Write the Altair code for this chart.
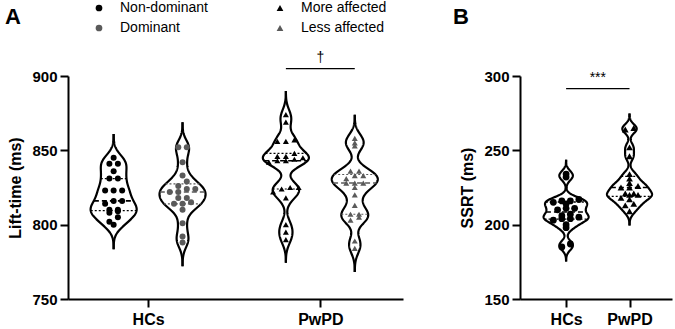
import altair as alt
import pandas as pd

# ---------------- data ----------------
# Panel A: Lift-time (ms)
hc_nondominant = [845, 841, 841, 836, 831, 831, 823, 823, 823, 816, 816, 814, 810, 810, 809, 808, 805, 802, 800]
hc_dominant = [852, 852, 842, 833, 829, 826, 824, 824, 822, 822, 818, 818, 815, 814, 814, 810, 801, 792, 788]
pd_more = [874, 869, 857, 856, 856, 848, 846, 846, 845, 844, 843, 843, 842, 825, 825, 824, 822, 818, 800, 795, 790]
pd_less = [858, 855, 853, 836, 836, 833, 833, 831, 828, 828, 828, 825, 820, 813, 807, 807, 805, 803, 789, 784]

# Panel B: SSRT (ms)
ssrt_hc = [234, 232, 217, 216, 216, 215, 214, 211, 211, 210, 207, 206, 205, 204, 204, 203, 200, 198, 187, 185]
ssrt_pd = [265, 264, 252, 246, 234, 231, 228, 226, 225, 225, 221, 221, 220, 220, 218, 217, 214, 213, 209]

sub_a = ["Non-dominant", "Dominant", "More affected", "Less affected"]
group_of = {"Non-dominant": "HCs", "Dominant": "HCs", "More affected": "PwPD", "Less affected": "PwPD"}
x_labels = ["HCs", "PwPD"]
panel_titles = ["A", "B"]

# significance annotations
sig_a = {"x1": [1.8], "x2": [2.2], "y": [905], "label": ["†"]}
sig_b = {"x1": [1.0], "x2": [2.0], "y": [291.5], "label": ["***"]}

GRAY = "#5a5a5a"
FONT = "Liberation Sans"

rows_a = []
for name, vals in [("Non-dominant", hc_nondominant), ("Dominant", hc_dominant),
                   ("More affected", pd_more), ("Less affected", pd_less)]:
    for v in vals:
        rows_a.append({"sub": name, "group": group_of[name], "value": v})
df_a = pd.DataFrame(rows_a)

rows_b = []
for name, vals in [("HCs", ssrt_hc), ("PwPD", ssrt_pd)]:
    for v in vals:
        rows_b.append({"sub": name, "group": name, "value": v})
df_b = pd.DataFrame(rows_b)

gray_test = "datum.sub == 'Dominant' || datum.sub == 'Less affected'"


def panel(df, side_off, half_w, bw, extent, spacing, binw, ydom, ytitle, xdom,
          width, height, title, title_dx, legend_a, sig, psize):
    pos_expr = ("(datum.group == 'HCs' ? 1 : 2) + "
                f"((datum.sub == 'Dominant' || datum.sub == 'Less affected') ? {side_off} : "
                f"((datum.sub == 'Non-dominant' || datum.sub == 'More affected') ? {-side_off} : 0))")
    base = alt.Chart(df).transform_calculate(pos=pos_expr)

    yscale = alt.Scale(domain=ydom, nice=False, zero=False)
    xscale = alt.Scale(domain=xdom, nice=False, zero=False)
    xaxis = alt.Axis(values=[1, 2], labelExpr="datum.value == 1 ? 'HCs' : 'PwPD'", title=None,
                     grid=False, tickSize=8, labelPadding=4, labelFontSize=16)
    yaxis = alt.Axis(values=list(range(ydom[0], ydom[1] + 1, 50)), title=ytitle, grid=False,
                     tickSize=8, labelPadding=3, titlePadding=8)

    dens = (base
            .transform_joinaggregate(q1="q1(value)", med="median(value)", q3="q3(value)", groupby=["sub"])
            .transform_density("value", groupby=["sub", "pos", "q1", "med", "q3"],
                               bandwidth=bw, extent=extent, steps=500)
            .transform_joinaggregate(maxd="max(density)", groupby=["sub"])
            .transform_calculate(hw=f"datum.density / datum.maxd * {half_w}")
            .transform_filter(f"datum.hw > {half_w * 0.0008}")
            .transform_calculate(left="datum.pos - datum.hw", right="datum.pos + datum.hw"))

    area = dens.mark_area(orient="horizontal", color="white", opacity=1).encode(
        y=alt.Y("value:Q", scale=yscale, axis=yaxis),
        x=alt.X("left:Q", scale=xscale, axis=xaxis),
        x2="right:Q",
        detail="sub:N",
    )
    layers = [area]
    for edge in ["left", "right"]:
        layers.append(dens.mark_line(color="black", strokeWidth=2.2).encode(
            y=alt.Y("value:Q", scale=yscale, axis=yaxis),
            x=alt.X(f"{edge}:Q", scale=xscale, axis=xaxis),
            detail="sub:N",
            order="value:Q",
        ))

    for k, dash, sw in [("q1", [2, 2], 1.2), ("med", [5, 3], 1.6), ("q3", [2, 2], 1.2)]:
        r = (dens.transform_calculate(dist=f"abs(datum.value - datum.{k})")
             .transform_joinaggregate(mind="min(dist)", groupby=["sub"])
             .transform_filter("datum.dist == datum.mind")
             .mark_rule(strokeDash=dash, strokeWidth=sw)
             .encode(y=alt.Y(f"{k}:Q", scale=yscale, axis=yaxis),
                     x=alt.X("left:Q", scale=xscale, axis=xaxis), x2="right:Q",
                     color=alt.condition(gray_test, alt.value(GRAY), alt.value("black"))))
        layers.append(r)

    pts = (base
           .transform_calculate(b=f"round(datum.value / {binw})")
           .transform_window(rk="row_number()", groupby=["sub", "b"], sort=[alt.SortField("value")])
           .transform_joinaggregate(cnt="count()", groupby=["sub", "b"])
           .transform_calculate(px=f"datum.pos + (datum.rk - (datum.cnt + 1) / 2) * {spacing}"))
    if legend_a:
        leg = alt.Legend(orient="none", legendX=24, legendY=-75, columns=2, columnPadding=65,
                         rowPadding=6, title=None, labelFontSize=14, labelFont=FONT,
                         labelFontWeight="normal", labelColor="black",
                         labelOffset=14, symbolSize=45, symbolStrokeWidth=0)
        pcol = alt.Color("sub:N", scale=alt.Scale(domain=sub_a, range=["black", GRAY, "black", GRAY]), legend=leg)
        pshape = alt.Shape("sub:N", scale=alt.Scale(domain=sub_a,
                           range=["circle", "circle", "triangle-up", "triangle-up"]), legend=leg)
    else:
        pcol = alt.value("black")
        pshape = alt.condition("datum.sub == 'HCs'", alt.value("circle"), alt.value("triangle-up"))
    points = pts.mark_point(filled=True, size=psize, opacity=1).encode(
        y=alt.Y("value:Q", scale=yscale, axis=yaxis),
        x=alt.X("px:Q", scale=xscale, axis=xaxis),
        color=pcol, shape=pshape)
    layers.append(points)

    sdf = pd.DataFrame(sig)
    srule = alt.Chart(sdf).mark_rule(color="black", strokeWidth=1.3, clip=False).encode(
        x=alt.X("x1:Q", scale=xscale, axis=xaxis), x2="x2:Q",
        y=alt.Y("y:Q", scale=yscale, axis=yaxis))
    stext = alt.Chart(sdf).transform_calculate(xm="(datum.x1 + datum.x2) / 2").mark_text(
        baseline="bottom", dy=-4, fontSize=14, font=FONT, color="black", clip=False).encode(
        x=alt.X("xm:Q", scale=xscale, axis=xaxis), y=alt.Y("y:Q", scale=yscale, axis=yaxis),
        text="label:N")
    ttl = alt.Chart(pd.DataFrame({"t": [title]})).mark_text(
        align="left", baseline="alphabetic", fontSize=22, font=FONT, fontWeight="bold",
        color="black", clip=False).encode(x=alt.value(title_dx), y=alt.value(-52), text="t:N")
    layers += [srule, stext, ttl]

    return alt.layer(*layers).properties(width=width, height=height)


pa = panel(df_a, 0.2, 23 / 172, 5.0, [740, 910], 8.5 / 172, 4, [750, 900], "Lift-time (ms)",
           [0.535, 2.48], 335, 223, panel_titles[0], -63, True, sig_a, 36)
pb = panel(df_b, 0.0, 22.5 / 63.3, 3.0, [150, 300], 8.5 / 63.3, 3, [150, 300], "SSRT (ms)",
           [0.273, 2.67], 152, 223, panel_titles[1], -67, False, sig_b, 46)

chart = (alt.hconcat(pa, pb, spacing=50, padding={"top": 1, "left": 5, "right": 3, "bottom": 3})
         .resolve_scale(color="independent", shape="independent")
         .configure_view(stroke=None)
         .configure_axis(labelFont=FONT, titleFont=FONT, labelFontWeight="bold", titleFontWeight="bold",
                         labelFontSize=15, titleFontSize=16, labelColor="black", titleColor="black",
                         domainColor="black", tickColor="black", domainWidth=2, tickWidth=2))

chart.save("out.html", embed_options={"renderer": "svg", "actions": False})
